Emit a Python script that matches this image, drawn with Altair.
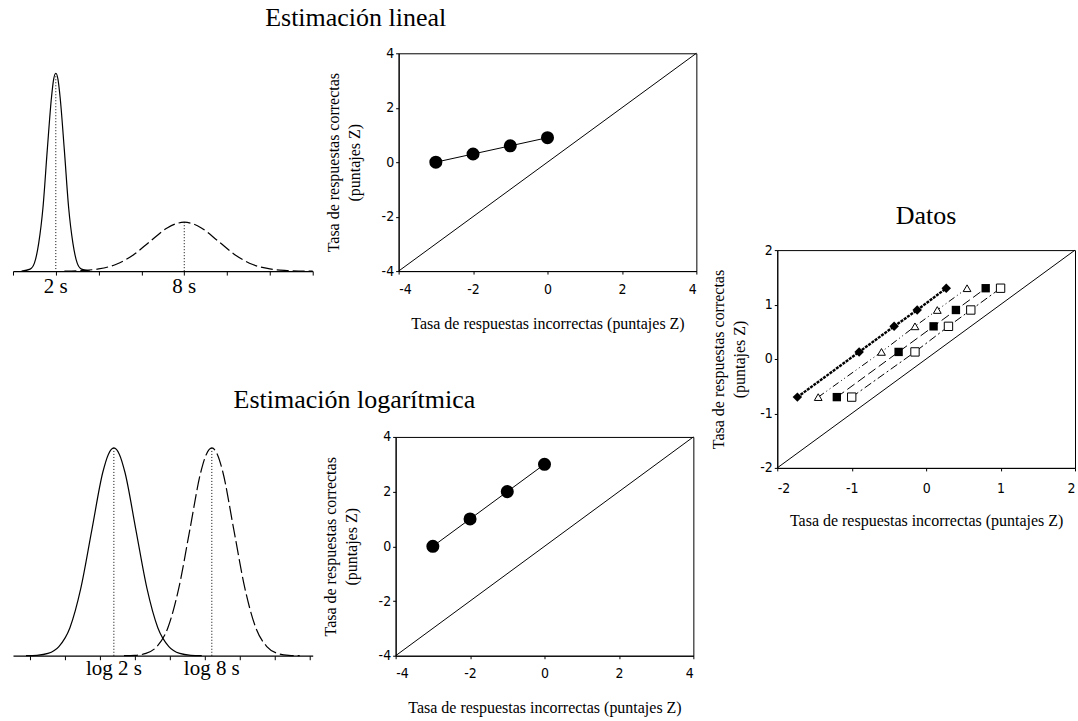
import altair as alt
import pandas as pd

SERIF = "Liberation Serif, Times New Roman, serif"
NARROW = "Liberation Sans Narrow, DejaVu Sans Condensed, Arial Narrow, Liberation Sans, sans-serif"

# ---- Linear timing: distributions of estimated duration (seconds)
lin_ticks = [0, 2, 4, 6, 8, 10, 12, 14]
lin_short_t = [0.4, 0.8, 1.0, 1.2, 1.4, 1.6, 1.8, 1.9, 2.0, 2.1, 2.2, 2.4, 2.6, 2.8, 3.0, 3.2, 3.6]
lin_short_d = [0.0, 0.01, 0.04, 0.14, 0.32, 0.61, 0.88, 0.97, 1.0, 0.97, 0.88, 0.61, 0.32, 0.14, 0.04, 0.01, 0.0]
lin_long_t = [2.4, 3.2, 4.0, 4.8, 5.6, 6.4, 7.2, 7.6, 8.0, 8.4, 8.8, 9.6, 10.4, 11.2, 12.0, 12.8, 13.6, 14.0]
lin_long_d = [0.0, 0.003, 0.011, 0.033, 0.080, 0.150, 0.218, 0.239, 0.247, 0.239, 0.218, 0.150, 0.080, 0.033, 0.011, 0.003, 0.0, 0.0]
lin_means = [2, 8]
lin_peaks = [1.0, 0.247]
lin_labels = ["2 s", "8 s"]

# ---- Logarithmic timing: distributions on a log10(seconds) axis
log_ticks = [-0.213, 0.002, 0.217, 0.432, 0.647, 0.862, 1.077, 1.292, 1.507]
log_short_x = [-0.239, -0.172, -0.104, -0.037, 0.031, 0.098, 0.166, 0.233, 0.267, 0.301,
               0.335, 0.369, 0.436, 0.504, 0.571, 0.639, 0.706, 0.774, 0.841]
log_long_x = [0.363, 0.430, 0.498, 0.565, 0.633, 0.700, 0.768, 0.835, 0.869, 0.903,
              0.937, 0.971, 1.038, 1.106, 1.173, 1.241, 1.308, 1.376, 1.443]
log_d = [0.0, 0.002, 0.011, 0.044, 0.135, 0.325, 0.607, 0.883, 0.969, 1.0,
         0.969, 0.883, 0.607, 0.325, 0.135, 0.044, 0.011, 0.002, 0.0]
log_means = [0.301, 0.903]
log_peaks = [1.0, 1.0]
log_labels = ["log 2 s", "log 8 s"]

# ---- ROC in z coordinates predicted by each model
pred_fa = [-3, -2, -1, 0]
lin_hit = [0.0, 0.3, 0.6, 0.9]
log_hit = [0.0, 1.0, 2.0, 3.0]

# ---- Observed z-ROCs
datos_hit = [-0.7, 0.13, 0.6, 0.9, 1.3]
datos_fa = {
    "a": [-1.73, -0.9, -0.43, -0.12, 0.27],
    "b": [-1.45, -0.6, -0.15, 0.15, 0.55],
    "c": [-1.2, -0.37, 0.1, 0.4, 0.8],
    "d": [-1.0, -0.15, 0.3, 0.6, 1.0],
}
datos_style = {
    "a": dict(shape="diamond", filled=True, size=90, dash=[3, 1], width=2.4),
    "b": dict(shape="triangle-up", filled=False, size=60, dash=[7, 3, 1, 3, 1, 3], width=1),
    "c": dict(shape="square", filled=True, size=70, dash=[9, 4], width=1),
    "d": dict(shape="square", filled=False, size=70, dash=[8, 3, 2, 3], width=1),
}

XTITLE = "Tasa de respuestas incorrectas (puntajes Z)"
YTITLE = ["Tasa de respuestas correctas", "(puntajes Z)"]


def dist_panel(width, height, xdom, ticks, short_x, short_d, long_x, long_d,
               ymax, means, peaks, labels, label_y, dash):
    x = alt.X("x:Q", scale=alt.Scale(domain=xdom, nice=False, zero=False),
              axis=alt.Axis(values=ticks, labels=False, title=None, grid=False,
                            tickSize=4, domainWidth=1.2, tickWidth=1))
    y = alt.Y("d:Q", scale=alt.Scale(domain=[0, ymax], nice=False), axis=None)
    solid = alt.Chart(pd.DataFrame({"x": short_x, "d": short_d})).mark_line(
        color="black", strokeWidth=1.2, interpolate="monotone").encode(x=x, y=y)
    dashed = alt.Chart(pd.DataFrame({"x": long_x, "d": long_d})).mark_line(
        color="black", strokeWidth=1.2, interpolate="monotone", strokeDash=dash).encode(x=x, y=y)
    marks = pd.DataFrame({"x": means, "d": peaks, "label": labels})
    rules = alt.Chart(marks).mark_rule(color="black", strokeWidth=1, strokeDash=[1, 2]).encode(
        x=x, y=y, y2=alt.datum(0))
    text = alt.Chart(marks).mark_text(font=SERIF, fontSize=21, color="black",
                                      baseline="middle").encode(
        x=x, y=alt.value(label_y), text="label:N")
    return alt.layer(solid, dashed, rules, text).properties(
        width=width, height=height, view=alt.ViewBackground(stroke=None))


def roc_panel(width, height, lim, ticks, series, ytitle_pad, xlabel_pad, xtitle_pad):
    x = alt.X("fa:Q", scale=alt.Scale(domain=[-lim, lim], nice=False),
              axis=alt.Axis(values=ticks, title=XTITLE, titlePadding=xtitle_pad,
                            labelPadding=xlabel_pad, labelExpr="datum.value + ''"))
    y = alt.Y("hit:Q", scale=alt.Scale(domain=[-lim, lim], nice=False),
              axis=alt.Axis(values=ticks, title=YTITLE, titlePadding=ytitle_pad, labelPadding=2,
                            labelExpr="datum.value + ''"))
    layers = [alt.Chart(pd.DataFrame({"fa": [-lim, lim], "hit": [-lim, lim]})).mark_line(
        color="black", strokeWidth=1).encode(x=x, y=y)]
    layers += series(x, y)
    return alt.layer(*layers).properties(width=width, height=height)


def model_series(fa, hit):
    def build(x, y):
        df = pd.DataFrame({"fa": fa, "hit": hit})
        line = alt.Chart(df).mark_line(color="black", strokeWidth=1).encode(x=x, y=y)
        pts = alt.Chart(df).mark_point(shape="circle", filled=True, color="black",
                                       size=170, opacity=1).encode(x=x, y=y)
        return [line, pts]
    return build


def data_series(x, y):
    out = []
    for key, fa in datos_fa.items():
        st = datos_style[key]
        df = pd.DataFrame({"fa": fa, "hit": datos_hit})
        out.append(alt.Chart(df).mark_line(color="black", strokeWidth=st["width"],
                                           strokeDash=st["dash"]).encode(x=x, y=y))
        out.append(alt.Chart(df).mark_point(
            shape=st["shape"], filled=st["filled"], size=st["size"], color="black",
            fill="black" if st["filled"] else "white", fillOpacity=1, opacity=1,
            strokeWidth=1).encode(x=x, y=y))
    return out


lin_dist = dist_panel(300, 218, [0, 14], lin_ticks, lin_short_t, lin_short_d,
                      lin_long_t, lin_long_d, 1.101, lin_means, lin_peaks, lin_labels,
                      234, [12, 4])
log_dist = dist_panel(300, 219, [-0.319, 1.523], log_ticks, log_short_x, log_d,
                      log_long_x, log_d, 1.053, log_means, log_peaks, log_labels,
                      232, [14, 4])

lin_roc = roc_panel(298, 218, 4, [-4, -2, 0, 2, 4], model_series(pred_fa, lin_hit), 19, 8, 19)
log_roc = roc_panel(298, 219, 4, [-4, -2, 0, 2, 4], model_series(pred_fa, log_hit), 19, 8, 19)
datos = roc_panel(298, 218, 2, [-2, -1, 0, 1, 2], data_series, 12, 11, 17).properties(
    title=alt.TitleParams("Datos", offset=14))

row_lin = alt.hconcat(lin_dist, lin_roc, spacing=8).properties(
    title=alt.TitleParams("Estimación lineal", offset=15))
row_log = alt.hconcat(log_dist, log_roc, spacing=8).properties(
    title=alt.TitleParams("Estimación logarítmica", offset=16))

spacer = alt.Chart(pd.DataFrame({"v": [0]})).mark_point(opacity=0).properties(
    width=1, height=149, view=alt.ViewBackground(stroke=None))

chart = alt.hconcat(
    alt.vconcat(row_lin, row_log, spacing=55),
    alt.vconcat(spacer, datos, spacing=0),
    spacing=10,
).properties(
    padding={"left": 12, "top": 4, "right": 0, "bottom": 0},
    background="white",
).configure_view(
    stroke="black", strokeWidth=1
).configure_axis(
    grid=False, domainColor="black", tickColor="black", tickSize=3,
    labelFont=NARROW, labelFontSize=14, labelColor="black",
    titleFont=SERIF, titleFontSize=16, titleFontWeight="normal", titleColor="black",
    titleLineHeight=21,
).configure_title(
    font=SERIF, fontSize=26, fontWeight="normal", color="black", anchor="middle"
)

chart.save("out.html", embed_options={"renderer": "svg", "actions": False})
